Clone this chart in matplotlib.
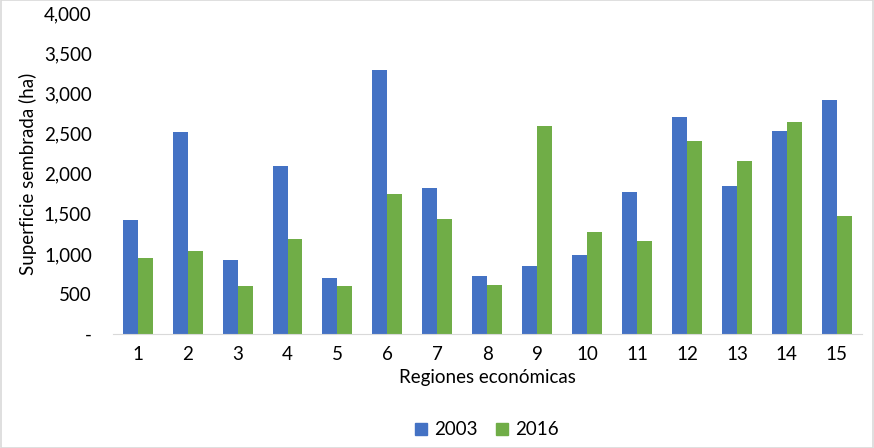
import matplotlib.pyplot as plt
import numpy as np
from matplotlib.ticker import FuncFormatter
from matplotlib.lines import Line2D

regiones = [str(i) for i in range(1, 16)]
sup_2003 = [1425, 2525, 925, 2100, 700, 3300, 1825, 725, 850, 987, 1775, 2712, 1850, 2537, 2925]
sup_2016 = [950, 1037, 600, 1187, 600, 1750, 1437, 612, 2600, 1275, 1162, 2412, 2162, 2650, 1475]

plt.rcParams['font.family'] = ['Lato', 'DejaVu Sans']

fig = plt.figure(figsize=(8.74, 4.48), dpi=100)
ax = fig.add_axes([0.129, 0.2545, 0.857, 0.715])

x = np.arange(len(regiones))
w = 0.3
ax.bar(x - w/2, sup_2003, w, color='#4472C4', label='2003')
ax.bar(x + w/2, sup_2016, w, color='#70AD47', label='2016')

ax.set_xlim(-0.5, len(regiones) - 0.5)
ax.set_ylim(0, 4000)
ax.set_yticks(np.arange(0, 4001, 500))
ax.yaxis.set_major_formatter(FuncFormatter(lambda v, p: '-' if v == 0 else f'{int(v):,}'))
ax.set_xticks(x)
ax.set_xticklabels(regiones)

for s in ['top', 'right', 'left']:
    ax.spines[s].set_visible(False)
ax.spines['bottom'].set_color('#D9D9D9')
ax.tick_params(axis='both', length=0, labelsize=13.5, colors='black')
ax.tick_params(axis='x', pad=9)
ax.tick_params(axis='y', pad=15)

ax.set_xlabel('Regiones económicas', fontsize=13.5, labelpad=4)
ax.set_ylabel('Superficie sembrada (ha)', fontsize=13.5, labelpad=5)

# cuadritos en la leyenda
handles = [Line2D([], [], marker='s', linestyle='none', markersize=8, color=c)
           for c in ['#4472C4', '#70AD47']]
ax.legend(handles, ['2003', '2016'], loc='upper center', bbox_to_anchor=(0.5, -0.22), ncol=2,
          frameon=False, fontsize=13.5, handlelength=0.6, columnspacing=1.0, handletextpad=0.4)

fig.patches.append(plt.Rectangle((0.001, 0.001), 0.998, 0.998, transform=fig.transFigure,
                                 fill=False, edgecolor='#D9D9D9', linewidth=1.2))

fig.savefig('out.png', dpi=100)
